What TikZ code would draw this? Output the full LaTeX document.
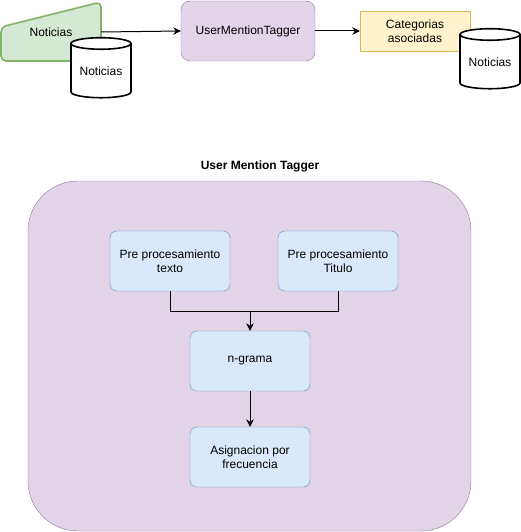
\documentclass[tikz,border=0pt]{standalone}
\usepackage{fontspec}
\setmainfont{Liberation Sans}
\usetikzlibrary{shapes.geometric,arrows.meta}

\definecolor{greenfill}{HTML}{D5E8D4}
\definecolor{greenline}{HTML}{82B366}
\definecolor{lilacfill}{HTML}{E1D5E7}
\definecolor{lilacline}{HTML}{9673A6}
\definecolor{yellowfill}{HTML}{FFF2CC}
\definecolor{yellowline}{HTML}{D6B656}
\definecolor{bluefill}{HTML}{DAE8FC}
\definecolor{blueline}{HTML}{6C8EBF}

\tikzset{
  every node/.style={font=\fontsize{12}{14.5}\selectfont, align=center},
  db/.style={cylinder, shape border rotate=90, aspect=0.27, draw, line width=1.6pt,
    fill=white, minimum width=60pt, minimum height=60pt, inner sep=0pt},
  stepbox/.style={draw=blueline, fill=bluefill, rounded corners=7pt,
    minimum width=120pt, minimum height=60pt, inner sep=0pt},
  >={Stealth[length=7.5pt,width=7.5pt]}
}

\begin{document}
\begin{tikzpicture}[x=1pt,y=-1pt]
        \useasboundingbox (0,0) rectangle (521,532);

        % Input news (manual input shape)
        \draw[draw=greenline, fill=greenfill, line width=1.6pt, rounded corners=5pt]
            (1,27) -- (101,2) -- (101,61) -- (1,61) -- cycle;
        \node[minimum width=100pt, minimum height=20pt, inner sep=0pt] (entrada) at (51,32) {Noticias};
        \node[db] (dbin) at (101,71) {Noticias};

        % Tagger and result
        \node[draw=lilacline, fill=lilacfill, rounded corners=9pt, minimum width=134pt,
            minimum height=60pt, inner sep=0pt] (tagger) at (248,31) {UserMentionTagger};
        \node[draw=yellowline, fill=yellowfill, minimum width=110pt, minimum height=40pt,
            inner sep=0pt] (categorias) at (415,31) {Categorias\\asociadas};
        \node[db] (dbout) at (490,62) {Noticias};

        % Arrows of the main flow
        \draw[->, line width=1pt] (entrada.east) -- (tagger.west);
        \draw[->, line width=1pt] (tagger.east) -- (categorias.west);

        % Container of the tagger
        \node[font=\fontsize{12}{14.5}\selectfont\bfseries] (titulo) at (260,166) {User Mention Tagger};
        \node[draw=lilacline, fill=lilacfill, rounded corners=50pt, minimum width=443pt,
            minimum height=350pt, inner sep=0pt] (contenedor) at (249.5,356) {};

        % Steps inside the tagger
        \node[stepbox] (pretexto) at (170,261) {Pre procesamiento\\texto};
        \node[stepbox] (pretitulo) at (338,261) {Pre procesamiento\\Titulo};
        \node[stepbox] (ngrama) at (250,361) {n-grama};
        \node[stepbox] (asignacion) at (250,457) {Asignacion por\\frecuencia};

        % Arrows between the steps
        \coordinate (union) at (250,311);
        \draw[line width=1pt] (pretexto.south) |- (union);
        \draw[line width=1pt] (pretitulo.south) |- (union);
        \draw[->, line width=1pt] (union) -- (ngrama.north);
        \draw[->, line width=1pt] (ngrama.south) -- (asignacion.north);
    \end{tikzpicture}
\end{document}
